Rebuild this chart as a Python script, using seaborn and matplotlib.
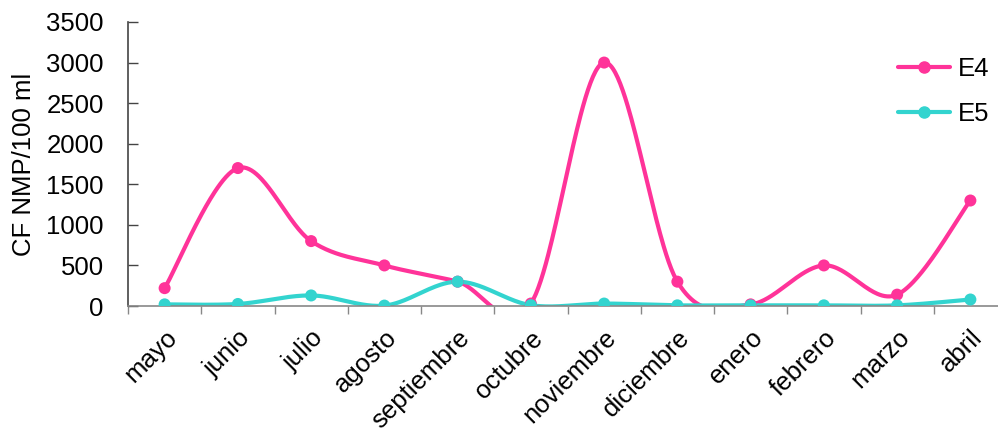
import numpy as np
import pandas as pd
import matplotlib
matplotlib.use("Agg")
import matplotlib.pyplot as plt
import seaborn as sns

months = ["mayo", "junio", "julio", "agosto", "septiembre", "octubre",
          "noviembre", "diciembre", "enero", "febrero", "marzo", "abril"]
e4 = [220, 1700, 800, 500, 300, 30, 3000, 300, 20, 500, 140, 1300]
e5 = [20, 25, 130, 5, 300, 10, 30, 8, 8, 8, 8, 80]
series_names = ["E4", "E5"]
series_colors = ["#FF3399", "#33D4CF"]
y_ticks = [0, 500, 1000, 1500, 2000, 2500, 3000, 3500]

sns.set_theme(style="white")
plt.rcParams["font.family"] = ["Liberation Sans", "DejaVu Sans"]
plt.rcParams["text.color"] = "black"
plt.rcParams["axes.labelcolor"] = "black"
plt.rcParams["xtick.labelcolor"] = "black"
plt.rcParams["ytick.labelcolor"] = "black"

FS = 18.5


def smooth(xs, ys, n=60):
    """Catmull-Rom style cubic Bezier through every point."""
    pts = np.column_stack([xs, ys]).astype(float)
    out = [pts[0]]
    m = len(pts)
    for i in range(m - 1):
        p0 = pts[i - 1] if i > 0 else pts[i]
        p1 = pts[i]
        p2 = pts[i + 1]
        p3 = pts[i + 2] if i + 2 < m else pts[i + 1]
        c1 = p1 + (p2 - p0) / 6.0
        c2 = p2 - (p3 - p1) / 6.0
        t = np.linspace(0, 1, n)[1:, None]
        seg = ((1 - t) ** 3) * p1 + 3 * ((1 - t) ** 2) * t * c1 \
            + 3 * (1 - t) * t ** 2 * c2 + t ** 3 * p2
        out.extend(seg)
    out = np.array(out)
    return out[:, 0], out[:, 1]


x_idx = np.arange(len(months))
curve_frames = []
point_frames = []
for name, vals in zip(series_names, [e4, e5]):
    sx, sy = smooth(x_idx, vals)
    curve_frames.append(pd.DataFrame({"x": sx, "y": sy, "serie": name}))
    point_frames.append(pd.DataFrame({"x": x_idx, "y": vals, "serie": name}))
curves = pd.concat(curve_frames, ignore_index=True)
points = pd.concat(point_frames, ignore_index=True)
palette = dict(zip(series_names, series_colors))

fig = plt.figure(figsize=(9.98, 4.33), dpi=100)
ax = fig.add_axes([128 / 998, 127 / 433, (1007 - 128) / 998, 284 / 433])

sns.lineplot(data=curves, x="x", y="y", hue="serie", palette=palette,
             sort=False, estimator=None, units="serie", linewidth=3.0,
             legend=False, ax=ax)
sns.scatterplot(data=points, x="x", y="y", hue="serie", palette=palette,
                s=75, edgecolor="none", legend=False, ax=ax, zorder=3)

ax.set_xlim(-0.5, len(months) - 0.5)
ax.set_ylim(0, 3500)
ax.set_yticks(y_ticks)
ax.set_yticklabels([str(v) for v in y_ticks], fontsize=FS)
ax.set_xticks(np.arange(len(months) + 1) - 0.5, minor=False)
ax.set_xticklabels([])
ax.set_xticks(x_idx, minor=True)
ax.set_xticklabels(months, minor=True, rotation=45, ha="right",
                   rotation_mode="anchor", fontsize=FS)
ax.tick_params(axis="x", which="major", direction="out", length=6,
               width=1, color="#888888", bottom=True)
ax.tick_params(axis="x", which="minor", length=0, pad=14)
ax.tick_params(axis="y", direction="in", length=7, width=1,
               color="#444444", left=True, pad=17.5)
ax.set_xlabel("")
ax.set_ylabel("CF NMP/100 ml", fontsize=FS, labelpad=7)

for side in ["top", "right"]:
    ax.spines[side].set_visible(False)
ax.spines["left"].set_color("#444444")
ax.spines["left"].set_linewidth(1.2)
ax.spines["bottom"].set_color("#888888")
ax.spines["bottom"].set_linewidth(1.2)

handles = [plt.Line2D([], [], color=c, lw=3.0, marker="o", markersize=8)
           for c in series_colors]
fig.legend(handles, series_names, loc="upper left",
           bbox_to_anchor=(888 / 998, 1 - 47 / 433), frameon=False,
           fontsize=FS, handlelength=2.0, handletextpad=0.3,
           labelspacing=0.8, borderaxespad=0)

fig.savefig("out.png", dpi=100)
